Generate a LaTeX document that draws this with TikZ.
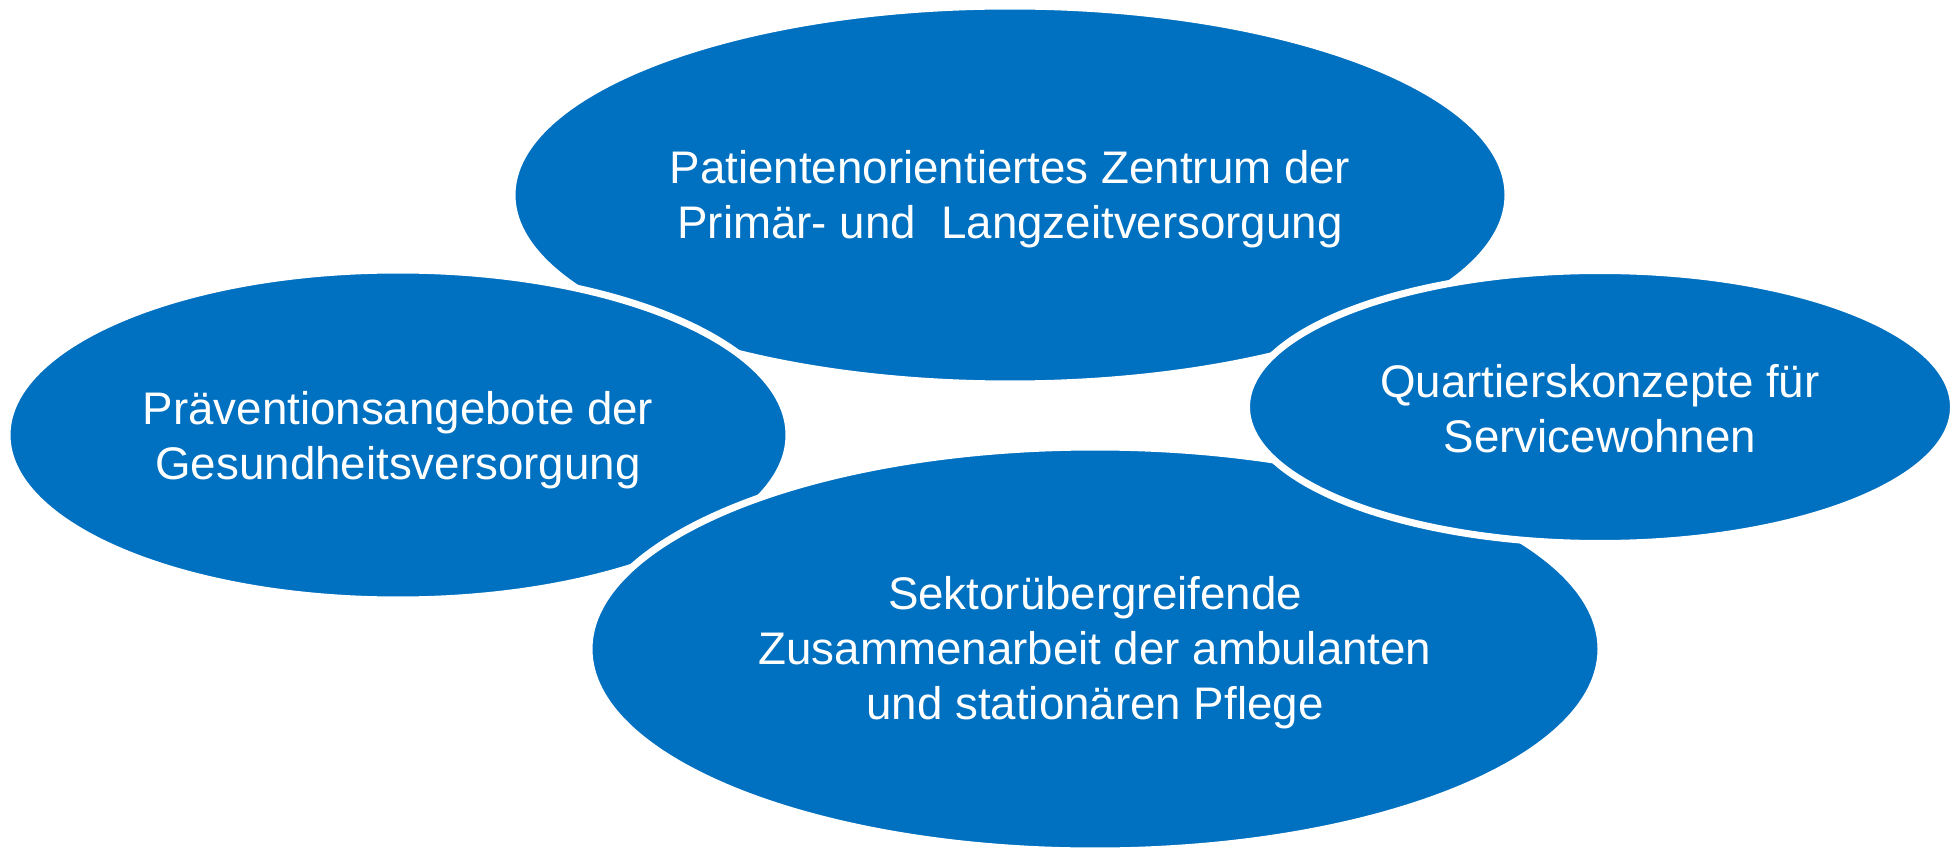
\documentclass[tikz,border=0pt]{standalone}
\usepackage{fontspec}
\setmainfont{Liberation Sans}
\usepackage{tikz}
\usetikzlibrary{shapes.geometric}
\definecolor{officeblue}{RGB}{0,112,192}

\begin{document}
\begin{tikzpicture}[
  bubble/.style={ellipse, draw=white, line width=2pt, fill=officeblue, inner sep=0pt},
  bubbletext/.style={text=white, inner sep=0pt, align=center, font=\fontsize{13}{15.6}\selectfont}
]
\useasboundingbox (0,0) rectangle (19.58,8.57);
% bubbles, back to front
\node[bubble, minimum width=9.96cm, minimum height=3.78cm] (zentrum) at (10.10,6.62) {};
\node[bubble, minimum width=7.82cm, minimum height=3.30cm] (praevention) at (3.98,4.22) {};
\node[bubble, minimum width=10.12cm, minimum height=4.04cm] (pflege) at (10.95,2.08) {};
\node[bubble, minimum width=7.07cm, minimum height=2.73cm] (quartier) at (16.00,4.50) {};
% texts
\node[bubbletext] (zentrumtext) at ([yshift=-0.04cm]zentrum.center)
  {Patientenorientiertes Zentrum der\\Primär- und~ Langzeitversorgung};
\node[bubbletext] (praeventiontext) at ([yshift=-0.05cm]praevention.center)
  {Präventionsangebote der\\Gesundheitsversorgung};
\node[bubbletext] (pflegetext) at ([yshift=-0.04cm]pflege.center)
  {Sektorübergreifende\\Zusammenarbeit der ambulanten\\und stationären Pflege};
\node[bubbletext] (quartiertext) at ([yshift=-0.02cm]quartier.center)
  {Quartierskonzepte für\\Servicewohnen};
\end{tikzpicture}
\end{document}
